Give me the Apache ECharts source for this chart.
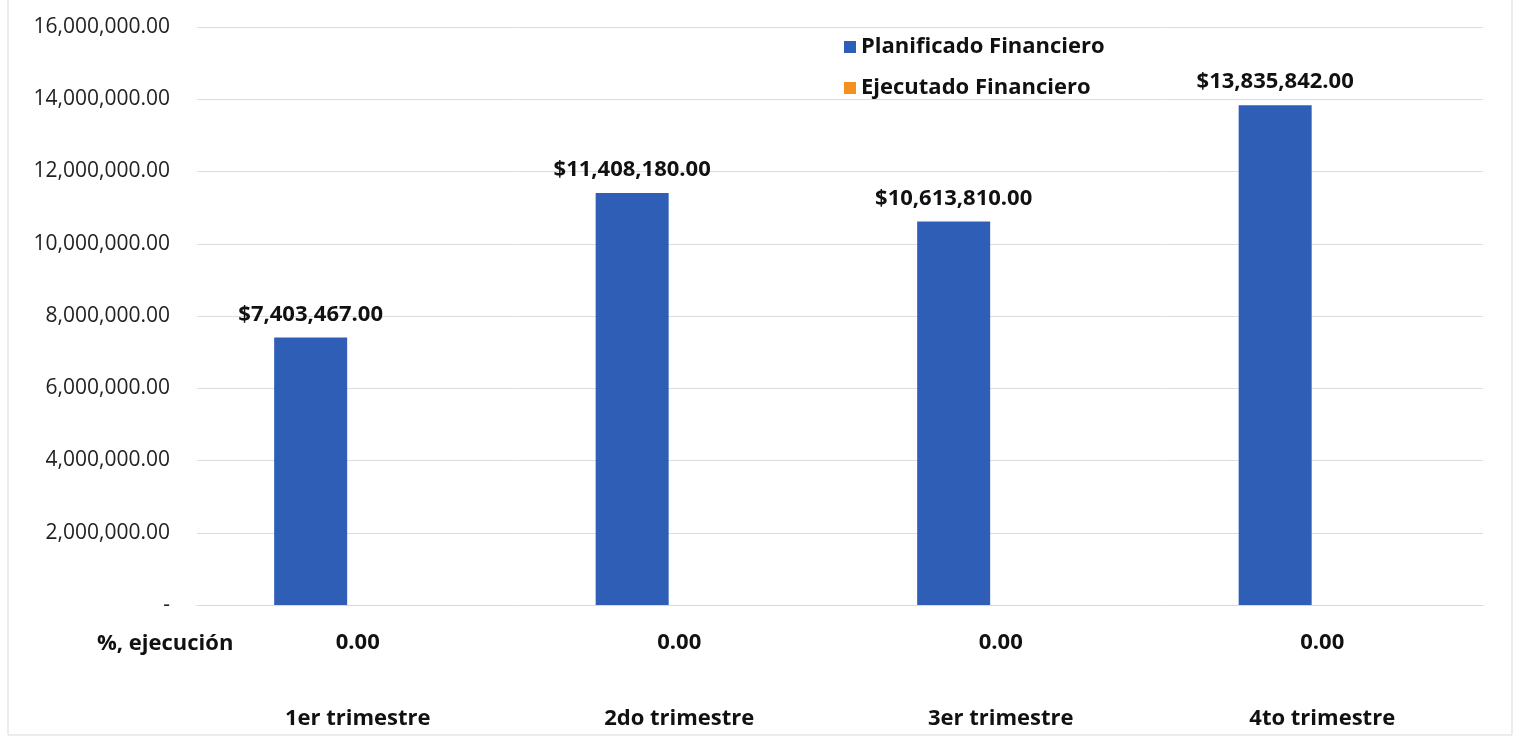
<!DOCTYPE html>
<html>
<head>
<meta charset="utf-8">
<script src="https://cdn.jsdelivr.net/npm/echarts@6/dist/echarts.min.js"></script>
<style>html,body{margin:0;padding:0;background:#fff}#c{width:1520px;height:739px}</style>
</head>
<body>
<div id="c"></div>
<script>
var categories = ['1er trimestre', '2do trimestre', '3er trimestre', '4to trimestre'];
var planificado = [7403467, 11408180, 10613810, 13835842];
var ejecutado = [0, 0, 0, 0];
var pctEjecucion = ['0.00', '0.00', '0.00', '0.00'];
var pctLabel = '%, ejecución';
var seriesNames = ['Planificado Financiero', 'Ejecutado Financiero'];

var FONT = 'Open Sans';
var BOLD = 22;
function fmt(v) {
  return v.toLocaleString('en-US', {minimumFractionDigits: 2, maximumFractionDigits: 2});
}
var chart = echarts.init(document.getElementById('c'));
chart.setOption({
  animation: false,
  backgroundColor: '#fff',
  textStyle: {fontFamily: FONT},
  grid: {left: 197, right: 37, top: 27, bottom: 134, containLabel: false},
  legend: {
    orient: 'vertical', left: 839, top: 27, itemGap: 11,
    itemWidth: 12, itemHeight: 12, icon: 'rect',
    textStyle: {fontFamily: FONT, fontSize: BOLD, fontWeight: 'bold', color: '#111', lineHeight: 30},
    data: seriesNames
  },
  xAxis: {
    type: 'category', data: categories,
    axisLine: {show: true, lineStyle: {color: '#d9d9d9'}},
    axisTick: {show: false},
    axisLabel: {
      margin: 0, interval: 0,
      formatter: function (v, i) { return '{p|' + pctEjecucion[i] + '}\n{c|' + v + '}'; },
      rich: {
        p: {fontFamily: FONT, fontSize: BOLD, fontWeight: 'bold', color: '#111', lineHeight: 76},
        c: {fontFamily: FONT, fontSize: BOLD, fontWeight: 'bold', color: '#111', lineHeight: 76}
      }
    }
  },
  yAxis: {
    type: 'value', min: 0, max: 16000000, interval: 2000000,
    axisLine: {show: false}, axisTick: {show: false},
    splitLine: {lineStyle: {color: '#dcdcdc'}},
    axisLabel: {
      margin: 27, fontFamily: FONT, fontSize: 21, color: '#222',
      formatter: function (v) { return v === 0 ? '-' : fmt(v); }
    }
  },
  graphic: [
    {type: 'rect', shape: {x: 8, y: -2, width: 1504, height: 737},
     style: {fill: 'none', stroke: '#d9d9d9', lineWidth: 1}, silent: true},
    {type: 'text', left: 97, top: 633,
     style: {text: pctLabel, fontFamily: FONT, fontSize: BOLD, fontWeight: 'bold', fill: '#111'}}
  ],
  series: [
    {
      name: seriesNames[0], type: 'bar', data: planificado,
      barWidth: 73, barGap: '29%',
      itemStyle: {color: '#2e5eb5'},
      label: {
        show: true, position: 'top', distance: 12,
        fontFamily: FONT, fontSize: BOLD, fontWeight: 'bold', color: '#111',
        formatter: function (p) { return '$' + fmt(p.value); }
      }
    },
    {
      name: seriesNames[1], type: 'bar', data: ejecutado,
      barWidth: 73,
      itemStyle: {color: '#f4901e'},
      label: {show: false}
    }
  ]
});
</script>
</body>
</html>
